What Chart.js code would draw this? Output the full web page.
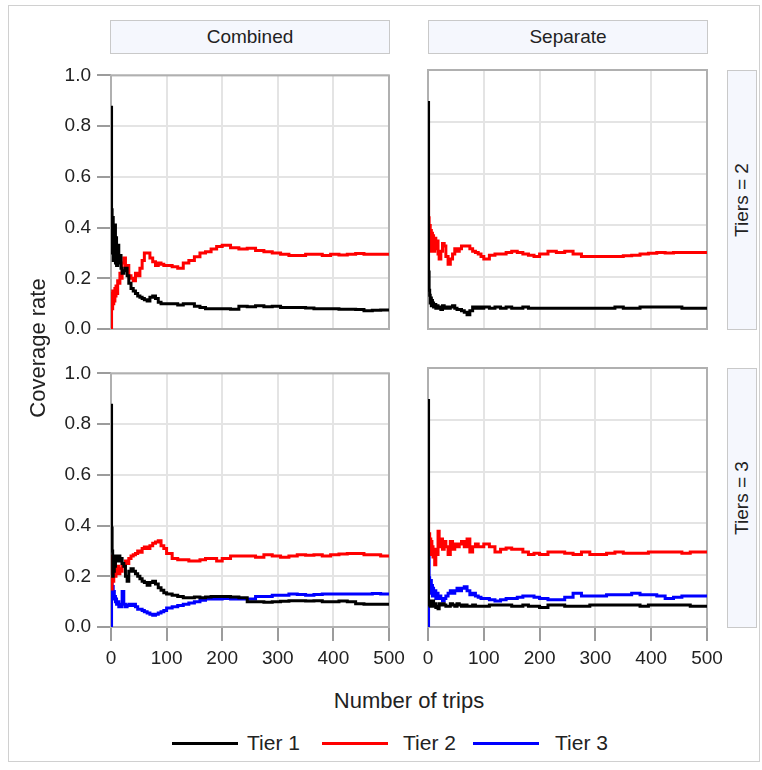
<!DOCTYPE html>
<html lang="en">
<head>
<meta charset="UTF-8">
<title>Coverage rate by number of trips</title>
<script src="https://cdn.jsdelivr.net/npm/chart.js"></script>
<style>
    body {
        margin: 0;
        width: 762px;
        height: 770px;
        position: relative;
        background: #fff;
        font-family: "Liberation Sans", Arial, sans-serif;
        color: #222;
        overflow: hidden;
    }
    .frame {
        position: absolute;
        left: 8px; top: 5px;
        width: 752px; height: 757px;
        border: 1px solid #d0d0d0;
        box-sizing: border-box;
    }
    .strip {
        position: absolute;
        background: #f5f7fd;
        border: 1px solid #c9c9c9;
        box-sizing: border-box;
        font-size: 19px;
        display: flex;
        align-items: center;
        justify-content: center;
    }
    .strip span, .ytitle span { white-space: nowrap; transform: rotate(-90deg); }
    canvas { position: absolute; }
    .ytitle {
        position: absolute;
        left: 18px; top: 248px;
        width: 40px; height: 200px;
        display: flex; align-items: center; justify-content: center;
        font-size: 22px;
    }
    .xtitle {
        position: absolute;
        left: 111px; width: 596px; top: 688px;
        text-align: center;
        font-size: 22px;
    }
    .leg-line { position: absolute; height: 3px; top: 742px; width: 66px; }
    .leg-text { position: absolute; top: 731px; font-size: 21px; }
</style>
</head>
<body>
<div class="frame"></div>

<div class="strip" style="left:110px; top:20px; width:280px; height:34px;">Combined</div>
<div class="strip" style="left:428px; top:20px; width:280px; height:34px;">Separate</div>
<div class="strip" style="left:727px; top:70px; width:30px; height:260px;"><span>Tiers = 2</span></div>
<div class="strip" style="left:727px; top:368px; width:30px; height:260px;"><span>Tiers = 3</span></div>

<canvas id="p1"></canvas>
<canvas id="p2"></canvas>
<canvas id="p3"></canvas>
<canvas id="p4"></canvas>

<div class="ytitle"><span>Coverage rate</span></div>
<div class="xtitle">Number of trips</div>

<div class="leg-line" style="left:172px; background:#000;"></div>
<div class="leg-text" style="left:247px;">Tier 1</div>
<div class="leg-line" style="left:322px; background:#f00;"></div>
<div class="leg-text" style="left:403px;">Tier 2</div>
<div class="leg-line" style="left:473px; background:#00f;"></div>
<div class="leg-text" style="left:555px;">Tier 3</div>

<script>
    // number of trips (x) shared by every series
    const trips = [1,2,3,4,5,6,7,8,9,10,12,14,16,18,20,23,26,29,32,36,40,44,48,52,56,60,65,70,75,80,85,90,95,100,
        110,120,130,140,150,160,170,180,190,200,215,230,245,260,275,290,305,320,335,350,365,380,395,410,425,440,455,470,485,500];

    const xTicks = [0, 100, 200, 300, 400, 500];
    const yTicks = [0.0, 0.2, 0.4, 0.6, 0.8, 1.0];

    // Combined, Tiers = 2
    const combined2Tier1 = [0.88,0.47,0.30,0.44,0.27,0.40,0.28,0.41,0.26,0.36,0.25,0.33,0.26,0.29,0.24,0.22,0.23,0.24,0.21,0.18,0.16,0.15,0.14,0.13,0.125,0.12,0.115,0.11,0.125,0.13,0.12,0.105,0.10,0.10,
        0.10,0.10,0.095,0.10,0.10,0.09,0.085,0.08,0.08,0.08,0.08,0.078,0.09,0.088,0.092,0.088,0.09,0.085,0.085,0.085,0.083,0.08,0.08,0.08,0.078,0.078,0.077,0.072,0.074,0.075];
    const combined2Tier2 = [0.0,0.14,0.08,0.15,0.10,0.14,0.11,0.16,0.13,0.17,0.14,0.19,0.18,0.22,0.20,0.26,0.28,0.24,0.25,0.21,0.20,0.19,0.22,0.21,0.24,0.27,0.30,0.30,0.28,0.265,0.25,0.26,0.255,0.25,
        0.25,0.245,0.24,0.26,0.27,0.285,0.30,0.305,0.315,0.325,0.33,0.32,0.315,0.318,0.31,0.305,0.30,0.295,0.29,0.29,0.295,0.295,0.29,0.295,0.292,0.295,0.298,0.295,0.295,0.295];

    // Separate, Tiers = 2
    const separate2Tier1 = [0.88,0.22,0.15,0.13,0.10,0.12,0.09,0.11,0.095,0.10,0.085,0.095,0.08,0.09,0.08,0.085,0.075,0.09,0.08,0.085,0.08,0.085,0.09,0.08,0.075,0.075,0.07,0.065,0.055,0.07,0.085,0.08,0.085,0.08,
        0.085,0.08,0.085,0.08,0.085,0.08,0.08,0.085,0.08,0.08,0.08,0.08,0.08,0.08,0.08,0.08,0.08,0.08,0.08,0.085,0.08,0.08,0.085,0.085,0.085,0.085,0.085,0.08,0.08,0.08];
    const separate2Tier2 = [0.50,0.43,0.32,0.40,0.33,0.38,0.30,0.37,0.32,0.36,0.30,0.35,0.31,0.34,0.29,0.27,0.30,0.33,0.32,0.28,0.25,0.27,0.29,0.31,0.30,0.31,0.32,0.32,0.32,0.31,0.30,0.295,0.29,0.28,
        0.27,0.285,0.29,0.29,0.295,0.30,0.295,0.29,0.285,0.28,0.29,0.30,0.295,0.30,0.29,0.28,0.28,0.28,0.28,0.28,0.283,0.285,0.29,0.292,0.295,0.293,0.295,0.295,0.295,0.295];

    // Combined, Tiers = 3
    const combined3Tier1 = [0.88,0.39,0.30,0.20,0.25,0.22,0.28,0.24,0.27,0.26,0.28,0.26,0.28,0.26,0.27,0.25,0.24,0.20,0.18,0.22,0.23,0.22,0.21,0.20,0.19,0.18,0.175,0.165,0.175,0.18,0.17,0.155,0.145,0.135,
        0.13,0.125,0.12,0.115,0.115,0.118,0.115,0.118,0.12,0.12,0.12,0.118,0.115,0.10,0.10,0.098,0.10,0.102,0.104,0.104,0.103,0.104,0.10,0.10,0.103,0.10,0.092,0.09,0.09,0.09];
    const combined3Tier2 = [0.285,0.15,0.20,0.26,0.18,0.24,0.22,0.25,0.20,0.23,0.21,0.24,0.21,0.23,0.22,0.25,0.24,0.26,0.25,0.27,0.28,0.285,0.29,0.30,0.295,0.31,0.315,0.31,0.32,0.33,0.335,0.34,0.32,0.31,
        0.29,0.27,0.265,0.265,0.26,0.26,0.265,0.27,0.27,0.26,0.27,0.28,0.28,0.28,0.275,0.285,0.28,0.275,0.28,0.285,0.283,0.285,0.28,0.285,0.288,0.29,0.29,0.285,0.285,0.28];
    const combined3Tier3 = [0.0,0.18,0.12,0.16,0.12,0.14,0.11,0.12,0.10,0.11,0.09,0.10,0.08,0.09,0.08,0.14,0.09,0.08,0.085,0.09,0.085,0.09,0.08,0.07,0.07,0.065,0.06,0.055,0.05,0.046,0.05,0.055,0.06,0.065,
        0.075,0.08,0.085,0.09,0.095,0.10,0.105,0.11,0.11,0.11,0.112,0.11,0.11,0.11,0.12,0.12,0.125,0.125,0.13,0.128,0.125,0.128,0.13,0.13,0.13,0.13,0.13,0.13,0.132,0.13];

    // Separate, Tiers = 3
    const separate3Tier1 = [0.88,0.09,0.085,0.10,0.08,0.095,0.085,0.10,0.08,0.10,0.08,0.09,0.075,0.08,0.07,0.09,0.085,0.09,0.085,0.08,0.08,0.09,0.085,0.08,0.09,0.085,0.08,0.085,0.08,0.08,0.085,0.08,0.08,0.08,
        0.08,0.085,0.085,0.085,0.085,0.08,0.08,0.085,0.08,0.08,0.075,0.085,0.085,0.08,0.08,0.08,0.085,0.085,0.085,0.085,0.085,0.085,0.08,0.085,0.085,0.085,0.085,0.085,0.08,0.08];
    const separate3Tier2 = [0.50,0.30,0.36,0.29,0.34,0.28,0.33,0.28,0.31,0.27,0.30,0.24,0.30,0.28,0.37,0.31,0.34,0.30,0.33,0.31,0.28,0.33,0.30,0.32,0.31,0.32,0.33,0.31,0.34,0.29,0.31,0.32,0.31,0.31,
        0.32,0.31,0.29,0.30,0.305,0.30,0.30,0.29,0.28,0.285,0.28,0.29,0.29,0.285,0.28,0.29,0.28,0.28,0.285,0.29,0.285,0.285,0.285,0.29,0.29,0.29,0.29,0.285,0.29,0.29];
    const separate3Tier3 = [0.0,0.33,0.19,0.17,0.14,0.18,0.13,0.16,0.12,0.15,0.12,0.14,0.11,0.13,0.11,0.12,0.11,0.10,0.11,0.12,0.13,0.14,0.13,0.14,0.15,0.14,0.15,0.155,0.14,0.125,0.13,0.12,0.115,0.11,
        0.11,0.105,0.10,0.105,0.11,0.11,0.115,0.12,0.12,0.115,0.11,0.105,0.105,0.115,0.13,0.12,0.12,0.12,0.125,0.125,0.125,0.13,0.125,0.125,0.12,0.11,0.115,0.12,0.12,0.12];

    const tierColors = ['#000000', '#ff0000', '#0000ff'];
    const tickFont = { family: '"Liberation Sans", Arial, sans-serif', size: 19 };

    // draws the gray box round the plot area
    const frameBox = {
        id: 'frameBox',
        beforeDatasetsDraw(chart) {
            const a = chart.chartArea;
            const ctx = chart.ctx;
            ctx.save();
            ctx.strokeStyle = '#b0b0b0';
            ctx.lineWidth = 2;
            ctx.strokeRect(a.left, a.top, a.right - a.left, a.bottom - a.top);
            ctx.restore();
        }
    };

    function makePanel(id, area, seriesList, showX, showY) {
        const yW = 60, padTop = 12, padRight = 22, xH = 45;
        const cv = document.getElementById(id);
        const w = yW + area.w + padRight;
        const h = padTop + area.h + xH;
        cv.width = w; cv.height = h;
        cv.style.width = w + 'px'; cv.style.height = h + 'px';
        cv.style.left = (area.x - yW) + 'px';
        cv.style.top = (area.y - padTop) + 'px';

        new Chart(cv, {
            type: 'line',
            data: {
                datasets: seriesList.map((vals, i) => ({
                    data: trips.map((t, j) => ({ x: t, y: vals[j] })),
                    borderColor: tierColors[i],
                    borderWidth: 3,
                    pointRadius: 0,
                    stepped: 'after',
                    borderJoinStyle: 'miter'
                }))
            },
            options: {
                responsive: false,
                animation: false,
                devicePixelRatio: 1,
                layout: { padding: { top: padTop, right: padRight, left: 0, bottom: 0 } },
                plugins: { legend: { display: false }, tooltip: { enabled: false } },
                scales: {
                    x: {
                        type: 'linear', min: 0, max: 500,
                        afterFit: s => { s.height = xH; },
                        afterBuildTicks: s => { s.ticks = xTicks.map(v => ({ value: v })); },
                        ticks: { display: showX, font: tickFont, color: '#222', padding: 6, maxRotation: 0, autoSkip: false },
                        grid: { color: '#e4e4e4', lineWidth: 2, drawTicks: showX, tickLength: 14, tickColor: '#9c9c9c' },
                        border: { display: false }
                    },
                    y: {
                        type: 'linear', min: 0, max: 1,
                        afterFit: s => { s.width = yW; },
                        afterBuildTicks: s => { s.ticks = yTicks.map(v => ({ value: v })); },
                        ticks: { display: showY, font: tickFont, color: '#222', padding: 6,
                                 callback: v => Number(v).toFixed(1) },
                        grid: { color: '#e4e4e4', lineWidth: 2, drawTicks: showY, tickLength: 14, tickColor: '#9c9c9c' },
                        border: { display: false }
                    }
                }
            },
            plugins: [frameBox]
        });
    }

    makePanel('p1', { x: 111, y: 70, w: 278, h: 259 }, [combined2Tier1, combined2Tier2], false, true);
    makePanel('p2', { x: 428, y: 70, w: 279, h: 259 }, [separate2Tier1, separate2Tier2], false, false);
    makePanel('p3', { x: 111, y: 368, w: 278, h: 259 }, [combined3Tier1, combined3Tier2, combined3Tier3], true, true);
    makePanel('p4', { x: 428, y: 368, w: 279, h: 259 }, [separate3Tier1, separate3Tier2, separate3Tier3], true, false);
</script>
</body>
</html>
